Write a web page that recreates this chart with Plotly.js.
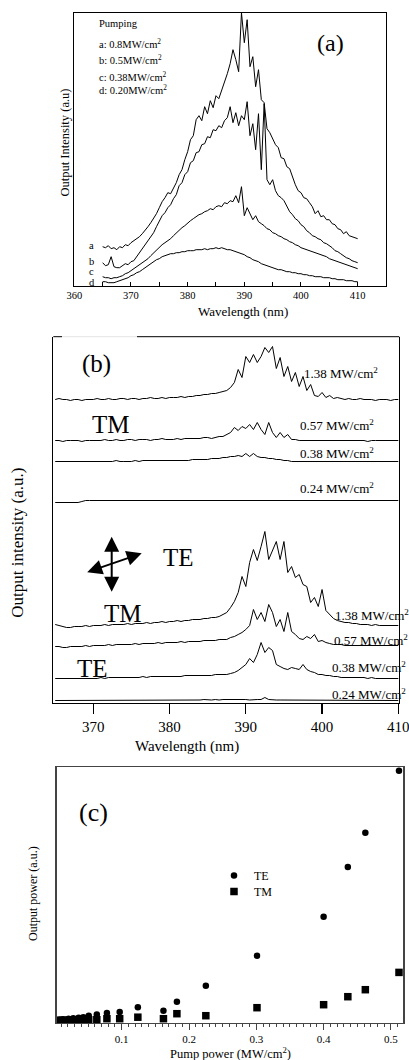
<!DOCTYPE html>
<html><head><meta charset="utf-8">
<script src="https://cdn.plot.ly/plotly-3.0.1.min.js"></script>
<style>html,body{margin:0;padding:0;background:#fff}#chart{width:409px;height:1060px}</style>
</head><body><div id="chart"></div>
<script>
// ---------- Panel (a): wavelength grid and spectra ----------
const wavelength = [
 365,365.5,366,366.5,367,367.5,368,368.5,369,369.5,
 370,370.5,371,371.5,372,372.5,373,373.5,374,374.5,
 375,375.5,376,376.5,377,377.5,378,378.5,379,379.5,
 380,380.5,381,381.5,382,382.5,383,383.5,384,384.5,
 385,385.5,386,386.5,387,387.5,388,388.5,389,389.5,
 390,390.5,391,391.5,392,392.5,393,393.5,394,394.5,
 395,395.5,396,396.5,397,397.5,398,398.5,399,399.5,
 400,400.5,401,401.5,402,402.5,403,403.5,404,404.5,
 405,405.5,406,406.5,407,407.5,408,408.5,409,409.5,
 410];

const specA = [
 39,38,40,37,38,36,39,38,41,40,
 43,45,47,49,52,55,59,63,67,72,
 78,84,88,93,92,98,103,111,116,126,
 134,146,150,166,170,165,179,172,185,178,
 190,187,195,205,212,222,236,226,214,273,
 243,266,219,229,199,216,186,183,157,153,
 147,141,138,128,127,119,117,108,101,95,
 93,88,87,83,79,72,75,69,70,66,
 66,62,61,57,56,52,54,50,49,48,
 47];
const specB = [
 23,20,21,29,19,18,18,20,22,21,
 24,25,29,32,36,40,45,49,53,59,
 65,70,73,78,81,87,91,100,103,111,
 114,123,125,133,134,141,142,149,148,156,
 155,160,158,165,168,179,163,173,160,170,
 166,184,150,162,136,172,116,182,106,101,
 106,95,90,88,85,80,74,71,67,65,
 61,59,55,53,50,49,47,46,43,42,
 40,38,35,34,32,30,28,27,25,24,
 23];
const specC = [
 9,8,8,7,8,8,9,10,12,13,
 15,17,19,21,23,25,27,30,33,36,
 39,41,43,45,47,50,53,56,58,60,
 63,65,67,69,71,72,74,75,77,76,
 79,80,79,83,82,85,84,90,83,99,
 70,78,72,66,70,64,62,60,57,56,
 53,52,50,49,47,46,44,43,41,40,
 38,37,36,35,34,33,32,31,30,29,
 27,26,25,24,23,22,21,20,19,18,
 17];
const specD = [
 4,4,3,3,3,4,5,6,7,8,
 10,11,13,14,16,18,20,22,24,26,
 27,29,30,31,32,32,33,33,34,34,
 35,35,35,36,36,36,37,36,37,37,
 38,37,38,37,36,36,35,34,33,32,
 31,29,28,26,25,24,22,21,20,19,
 18,17,16,16,15,14,14,13,13,12,
 12,11,11,10,10,9,9,9,8,8,
 8,7,7,6,6,6,5,5,5,4,
 4];
const curveLabelsA = ["a","b","c","d"];
const pumpingLegend = ["a: 0.8MW/cm<sup>2</sup>","b: 0.5MW/cm<sup>2</sup>","c: 0.38MW/cm<sup>2</sup>","d: 0.20MW/cm<sup>2</sup>"];

// ---------- Panel (b): stacked TM / TE spectra ----------
const tm138 = [
 303,304,303,303,302,303,303,302,303,303,
 303,304,303,303,304,303,303,304,304,303,
 304,304,303,304,304,305,304,304,305,304,
 305,305,305,306,305,306,306,307,307,308,
 308,309,309,310,311,312,315,320,333,325,
 346,340,348,340,346,355,350,356,334,345,
 326,336,321,330,316,326,312,318,307,306,
 310,305,307,304,305,304,303,304,303,303,
 304,303,303,303,302,303,303,303,302,303,
 303];
const tm057 = [
 262,262,261,262,262,262,262,261,262,262,
 262,262,262,263,262,262,263,262,262,263,
 263,262,263,263,263,262,263,263,264,263,
 263,263,264,263,264,264,264,264,264,265,
 265,264,265,266,266,268,270,275,272,276,
 274,278,273,280,273,268,280,270,265,270,
 265,268,263,263,262,262,262,262,262,262,
 262,262,262,262,262,262,262,262,262,262,
 262,262,261,262,262,262,262,262,262,262,
 262];
const tm038 = [
 241,241,241,241,241,241,241,241,241,241,
 241,241,241,241,241,241,242,241,241,241,
 241,242,241,242,242,242,242,242,242,242,
 242,242,242,242,242,242,243,243,243,243,
 243,244,244,244,245,245,246,246,247,246,
 249,246,249,246,245,245,244,244,243,243,
 242,242,241,241,241,241,241,241,241,241,
 241,241,241,241,241,241,241,241,241,241,
 241,241,241,241,241,241,241,241,241,241,
 241];
const tm024 = [
 200,200,200,200,200,200,200,201,202,202,
 202,202,202,202,202,202,202,202,202,202,
 202,202,202,202,202,202,202,202,202,202,
 202,202,202,202,202,202,202,202,202,202,
 202,202,202,202,202,202,202,202,202,202,
 202,202,202,202,202,202,202,202,202,202,
 202,202,202,202,202,202,202,202,202,202,
 202,202,202,202,202,202,202,202,202,202,
 202,202,202,202,202,202,202,202,202,202,
 202];
const te138 = [
 78,77,76,75,75,76,76,76,77,76,
 77,77,77,78,77,78,78,78,78,79,
 78,79,79,79,80,79,80,80,81,80,
 81,81,82,81,82,82,83,83,83,84,
 84,85,85,86,88,90,95,101,110,126,
 116,140,153,142,156,171,143,152,161,143,
 161,130,136,125,128,118,116,100,105,96,
 113,92,88,84,82,81,80,80,79,79,
 78,78,78,77,78,77,77,77,77,77,
 77];
const te057 = [
 56,56,55,55,56,56,56,56,57,56,
 57,57,57,57,58,57,58,58,58,58,
 58,59,58,59,59,59,59,60,59,60,
 60,60,60,61,60,61,61,61,61,62,
 62,62,62,63,63,63,65,66,68,70,
 73,77,93,83,90,81,98,90,76,83,
 71,90,71,68,64,63,66,64,68,61,
 62,60,59,58,58,58,57,57,57,57,
 57,57,57,57,57,57,57,57,57,57,
 57];
const te038 = [
 24,24,24,24,24,24,24,24,24,24,
 24,24,25,24,25,25,25,25,25,25,
 25,25,25,26,25,26,26,26,26,26,
 26,26,26,26,27,27,27,27,27,27,
 27,27,28,28,28,28,29,30,32,35,
 38,44,40,48,60,50,55,52,38,36,
 34,33,35,34,33,38,33,31,30,28,
 28,27,27,26,26,25,25,25,25,25,
 25,25,24,25,24,24,24,24,24,24,
 24];
const te024 = [
 2,2,2,2,2,2,2,2,2,2,
 2,2,2,2,2,2,2,2,2,2,
 2,2,2,2,2,2,2,2,2,2.5,
 2.5,2.5,2.5,2.5,2.5,2.5,2.5,2.5,2.5,3,
 2.5,2.5,3,2.5,3,3,3,3,3.5,3,
 3,2.5,3,3,3,5,3,2.5,2.5,2.5,
 2.5,2.5,2.5,2,2,2,2,2,2,2,
 2,2,2,2,2,2,2,2,2,2,
 2,2,2,2,2,2,2,2,2,2,
 2];
const powerLabelsB = ["1.38 MW/cm<sup>2</sup>","0.57 MW/cm<sup>2</sup>","0.38 MW/cm<sup>2</sup>","0.24 MW/cm<sup>2</sup>"];

// ---------- Panel (c): output power vs pump power ----------
const pumpPower = [0.007,0.013,0.021,0.028,0.036,0.043,0.051,0.063,0.078,0.097,0.124,0.162,0.182,0.225,0.301,0.4,0.436,0.462,0.512];
const outTE = [3,3.5,4,4.5,5,5.5,7,8.3,9.7,10.7,15.5,12,21,37,67,106,155.7,190,252];
const outTM = [2.5,2.5,2.5,2.5,3,3,3,3,4,4,5.5,4,9,7,15,18,26,33,50.3];

// ---------- build ----------
const W = 409, H = 1060;
const SERIF = 'Liberation Serif, Times New Roman, serif';
const px = v => v / W;
const py = v => 1 - v / H;
const line = {color:'#000', width:1};

const traces = [];
[specA, specB, specC, specD].forEach(s => traces.push({x:wavelength, y:s, xaxis:'x', yaxis:'y', mode:'lines', line:line, showlegend:false, hoverinfo:'skip'}));
[tm138, tm057, tm038, tm024, te138, te057, te038, te024].forEach(s => traces.push({x:wavelength, y:s, xaxis:'x2', yaxis:'y2', mode:'lines', line:line, showlegend:false, hoverinfo:'skip'}));
traces.push({x:pumpPower, y:outTE, xaxis:'x3', yaxis:'y3', mode:'markers', name:'TE', legend:'legend', marker:{symbol:'circle', size:6.5, color:'#000'}, cliponaxis:false});
traces.push({x:pumpPower, y:outTM, xaxis:'x3', yaxis:'y3', mode:'markers', name:'TM', legend:'legend2', marker:{symbol:'square', size:7.5, color:'#000'}, cliponaxis:false});

function A(text, x, y, size, xanchor, extra) {
  return Object.assign({text:text, xref:'paper', yref:'paper', x:px(x), y:py(y), showarrow:false,
    xanchor:xanchor || 'center', yanchor:'middle', font:{family:SERIF, size:size, color:'#000'}}, extra || {});
}

const ann = [];
// panel (a)
ann.push(A('Pumping', 97, 23, 10.5, 'left'));
[43.3, 59.3, 76.7, 90].forEach((y, i) => ann.push(A(pumpingLegend[i], 97, y, 10.5, 'left')));
ann.push(A('(a)', 330, 43, 24));
[245, 261, 271, 282].forEach((y, i) => ann.push(A(curveLabelsA[i], 91.7, y, 10.5)));
ann.push(A('Wavelength (nm)', 243, 311, 13));
ann.push(A('Output Intensity (a.u)', 64, 142.5, 12.5, 'center', {textangle:-90}));
// panel (b)
ann.push(A('(b)', 96.7, 364, 25));
ann.push(A('TM', 110.8, 424, 25));
ann.push(A('TE', 178.3, 557, 25));
ann.push(A('TM', 123.3, 613.3, 25));
ann.push(A('TE', 92.5, 668.3, 25));
[[302, 373], [298.3, 425], [298.3, 453.3], [298.3, 488.3]].forEach((p, i) => ann.push(A(powerLabelsB[i], p[0], p[1], 13, 'left')));
[[333.3, 615], [331.7, 640], [330, 666.7], [330, 694]].forEach((p, i) => ann.push(A(powerLabelsB[i], p[0], p[1], 13, 'left')));
ann.push(A('Wavelength (nm)', 186.7, 746.7, 15));
ann.push(A('Output intensity (a.u.)', 16.7, 543, 17, 'center', {textangle:-90}));
// polarisation arrows
const arrowStyle = {showarrow:true, arrowside:'end+start', arrowhead:2, startarrowhead:2, arrowsize:1.5, startarrowsize:1.5, arrowwidth:2, arrowcolor:'#000'};
ann.push(Object.assign({text:'', xref:'paper', yref:'paper', x:px(111.7), y:py(536.7), ax:0, ay:56.6}, arrowStyle));
ann.push(Object.assign({text:'', xref:'paper', yref:'paper', x:px(141.7), y:py(553.3), ax:-56, ay:19.4}, arrowStyle));
// panel (c)
ann.push(A('(c)', 93.3, 812.5, 26));
ann.push(A('Pump power (MW/cm<sup>2</sup>)', 230, 1053, 12.5));
ann.push(A('Output power (a.u.)', 33, 894, 12, 'center', {textangle:-90}));

const shapes = [
  {type:'line', xref:'paper', yref:'paper', x0:px(53.3), x1:px(62), y0:py(336.7), y1:py(336.7), line:{color:'#000', width:1}},
  {type:'line', xref:'paper', yref:'paper', x0:px(62), x1:px(137), y0:py(336.7), y1:py(336.7), line:{color:'#e4e4e4', width:1}},
  {type:'line', xref:'paper', yref:'paper', x0:px(137), x1:px(399.3), y0:py(336.7), y1:py(336.7), line:{color:'#000', width:1}}
];

const tickFontA = {family:SERIF, size:10.5, color:'#000'};
const legendBase = {xanchor:'left', yanchor:'top', bgcolor:'rgba(0,0,0,0)', font:{family:SERIF, size:12, color:'#000'}, itemwidth:30};
const layout = {
  width:W, height:H, margin:{l:0, r:0, t:0, b:0},
  paper_bgcolor:'#fff', plot_bgcolor:'rgba(0,0,0,0)',
  font:{family:SERIF, color:'#000'},
  showlegend:true,
  legend:Object.assign({x:px(214), y:py(861)}, legendBase),
  legend2:Object.assign({x:px(214), y:py(877)}, legendBase),
  xaxis:{domain:[px(74.3), px(386)], range:[360, 415], anchor:'y', showline:true, mirror:true, linecolor:'#000', linewidth:1,
    ticks:'inside', ticklen:4, tickcolor:'#000', dtick:10, tick0:360, minor:{dtick:5, ticks:'inside', ticklen:4, tickcolor:'#000'},
    showgrid:false, zeroline:false, tickfont:tickFontA, fixedrange:true, ticklabeloverflow:'allow'},
  yaxis:{domain:[py(285.7), py(12.7)], range:[0, 273], anchor:'x', showline:true, mirror:true, linecolor:'#000', linewidth:1,
    ticks:'', showticklabels:false, showgrid:false, zeroline:false, fixedrange:true},
  xaxis2:{domain:[px(53.3), px(399.3)], range:[364.75, 410.13], anchor:'y2', showline:true, mirror:false, linecolor:'#000', linewidth:1,
    ticks:'outside', ticklen:10, tickwidth:1.2, tickcolor:'#000', dtick:10, tick0:370,
    showgrid:false, zeroline:false, tickfont:{family:SERIF, size:15, color:'#000'}, fixedrange:true, ticklabeloverflow:'allow'},
  yaxis2:{domain:[py(702.5), py(336.7)], range:[0, 365.8], anchor:'x2', showline:true, mirror:true, linecolor:'#000', linewidth:1,
    ticks:'', showticklabels:false, showgrid:false, zeroline:false, fixedrange:true},
  xaxis3:{domain:[px(56.7), px(403.3)], range:[0.0034, 0.5184], anchor:'y3', showline:true, mirror:true, linecolor:'#444', linewidth:1.3,
    ticks:'outside', ticklen:6, tickcolor:'#444', dtick:0.1, tick0:0, minor:{dtick:0.01, ticks:'outside', ticklen:3, tickcolor:'#444'},
    showgrid:false, zeroline:false, tickfont:{family:SERIF, size:11, color:'#000'}, fixedrange:true, ticklabeloverflow:'allow'},
  yaxis3:{domain:[py(1022.7), py(767.3)], range:[0, 255.4], anchor:'x3', showline:true, mirror:true, linecolor:'#444', linewidth:1.3,
    ticks:'', showticklabels:false, showgrid:false, zeroline:false, fixedrange:true},
  annotations:ann,
  shapes:shapes
};

Plotly.newPlot('chart', traces, layout, {staticPlot:true, displayModeBar:false});
</script>
</body></html>
